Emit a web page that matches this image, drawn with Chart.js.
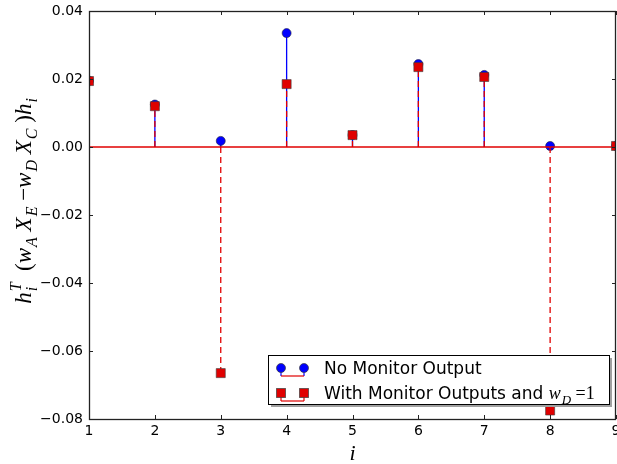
<!DOCTYPE html>
<html>
<head>
<meta charset="utf-8">
<script src="https://cdn.jsdelivr.net/npm/chart.js@4/dist/chart.umd.min.js"></script>
<style>
  html, body { margin: 0; padding: 0; background: #fff; }
  #stemChart { display: block; }
</style>
</head>
<body>
<canvas id="stemChart" width="617" height="464"></canvas>
<script>
// Data
const indices = [1, 2, 3, 4, 5, 6, 7, 8, 9];
const noMonitor = [0.0195, 0.0125, 0.0018, 0.0335, 0.0035, 0.0244, 0.0212, 0.0003, 0.0003];
const withMonitor = [0.0194, 0.0120, -0.0665, 0.0185, 0.0035, 0.0235, 0.0206, -0.0775, 0.0003];
const yTicks = [-0.08, -0.06, -0.04, -0.02, 0.00, 0.02, 0.04];
const xTicks = [1, 2, 3, 4, 5, 6, 7, 8, 9];
const legendLabels = ['No Monitor Output', 'With Monitor Outputs and '];

const BLUE = '#0000ff';
const RED = '#e00000';
const SERIF = '"Liberation Serif", "DejaVu Serif", serif';
const SANS = '"DejaVu Sans", sans-serif';

// Build stem segments: (x,0) -> (x,v), then a gap
function stemPoints(values) {
    const pts = [];
    indices.forEach((x, k) => {
        pts.push({ x: x, y: 0 });
        pts.push({ x: x, y: values[k] });
        pts.push({ x: x, y: null });
    });
    return pts;
}
function markerPoints(values) {
    return indices.map((x, k) => ({ x: x, y: values[k] }));
}
const baseline = [{ x: indices[0], y: 0 }, { x: indices[indices.length - 1], y: 0 }];

// Draw mathtext-like pieces; returns width
function drawMath(ctx, parts, x, y, size, draw) {
    let cx = x;
    const small = Math.round(size * 0.7);
    parts.forEach(p => {
        const fam = p.sans ? SANS : SERIF;
        ctx.font = (p.it ? 'italic ' : '') + size + 'px ' + fam;
        if (draw) ctx.fillText(p.t, cx, y);
        cx += ctx.measureText(p.t).width;
        let w = 0;
        ctx.font = 'italic ' + small + 'px ' + SERIF;
        if (p.sub) {
            if (draw) ctx.fillText(p.sub, cx + 1, y + size * 0.25);
            w = Math.max(w, ctx.measureText(p.sub).width + 1);
        }
        if (p.sup) {
            if (draw) ctx.fillText(p.sup, cx + 1, y - size * 0.45);
            w = Math.max(w, ctx.measureText(p.sup).width + 1);
        }
        cx += w;
    });
    return cx - x;
}

const yLabelParts = [
    { t: 'h', it: true, sub: 'i', sup: 'T' },
    { t: '  (' },
    { t: 'w', it: true, sub: 'A' },
    { t: ' X', it: true, sub: 'E' },
    { t: ' \u2212' },
    { t: 'w', it: true, sub: 'D' },
    { t: ' X', it: true, sub: 'C' },
    { t: ' )' },
    { t: 'h', it: true, sub: 'i' }
];

// Frame, inward ticks, axis titles and legend
const decorations = {
    id: 'decorations',
    afterDatasetsDraw(chart) {
        const ctx = chart.ctx;
        const a = chart.chartArea;
        const xs = chart.scales.x, ys = chart.scales.y;
        ctx.save();
        ctx.strokeStyle = '#222';
        ctx.lineWidth = 1;
        ctx.beginPath();
        xTicks.forEach(v => {
            const px = Math.round(xs.getPixelForValue(v)) + 0.5;
            ctx.moveTo(px, a.top); ctx.lineTo(px, a.top + 4);
            ctx.moveTo(px, a.bottom); ctx.lineTo(px, a.bottom - 4);
        });
        yTicks.forEach(v => {
            const py = Math.round(ys.getPixelForValue(v)) + 0.5;
            ctx.moveTo(a.left, py); ctx.lineTo(a.left + 4, py);
            ctx.moveTo(a.right, py); ctx.lineTo(a.right - 4, py);
        });
        ctx.stroke();
        ctx.lineWidth = 1.3;
        ctx.strokeRect(Math.round(a.left) + 0.5, Math.round(a.top) + 0.5,
            Math.round(a.right - a.left) - 1, Math.round(a.bottom - a.top));
        ctx.restore();
    },
    afterDraw(chart) {
        const ctx = chart.ctx;
        const a = chart.chartArea;
        ctx.save();
        ctx.fillStyle = '#000';
        ctx.textBaseline = 'alphabetic';
        ctx.textAlign = 'left';

        // x title
        ctx.font = 'italic 22px ' + SERIF;
        ctx.textAlign = 'center';
        ctx.fillText('i', (a.left + a.right) / 2, 460);
        ctx.textAlign = 'left';

        // y title
        const size = 23;
        const w = drawMath(ctx, yLabelParts, 0, 0, size, false);
        ctx.save();
        ctx.translate(31, (a.top + a.bottom) / 2 - 14);
        ctx.rotate(-Math.PI / 2);
        drawMath(ctx, yLabelParts, -w / 2, 0, size, true);
        ctx.restore();

        // legend
        const lx = 268, ly = 355, lw = 341, lh = 49;
        ctx.fillStyle = '#a0a0a0';
        ctx.fillRect(lx + 3, ly + 3, lw, lh);
        ctx.fillStyle = '#fff';
        ctx.fillRect(lx, ly, lw, lh);
        ctx.strokeStyle = '#000';
        ctx.lineWidth = 1;
        ctx.strokeRect(lx + 0.5, ly + 0.5, lw, lh);

        const rows = [
            { y: 368, color: BLUE, stemColor: BLUE, shape: 'circle' },
            { y: 393, color: RED, stemColor: RED, shape: 'square' }
        ];
        rows.forEach((r, k) => {
            const m1 = 281, m2 = 304, base = r.y + 8;
            ctx.lineWidth = 1.2;
            ctx.strokeStyle = r.stemColor;
            ctx.beginPath();
            ctx.moveTo(m1, r.y); ctx.lineTo(m1, base);
            ctx.moveTo(m2, r.y); ctx.lineTo(m2, base);
            ctx.stroke();
            ctx.strokeStyle = RED;
            ctx.beginPath();
            ctx.moveTo(m1, base); ctx.lineTo(m2, base);
            ctx.stroke();
            [m1, m2].forEach(mx => {
                ctx.fillStyle = r.color;
                ctx.strokeStyle = 'rgba(60,60,60,0.7)';
                ctx.lineWidth = 1;
                if (r.shape === 'circle') {
                    ctx.beginPath();
                    ctx.arc(mx, r.y, 4.5, 0, Math.PI * 2);
                    ctx.fill(); ctx.stroke();
                } else {
                    ctx.fillRect(mx - 4.5, r.y - 4.5, 9, 9);
                    ctx.strokeRect(mx - 4.5, r.y - 4.5, 9, 9);
                }
            });
            ctx.fillStyle = '#000';
            ctx.font = '17px ' + SANS;
            ctx.fillText(legendLabels[k], 324, r.y + 6);
            if (k === 1) {
                const tw = ctx.measureText(legendLabels[k]).width;
                drawMath(ctx, [{ t: 'w', it: true, sub: 'D' }, { t: ' =1' }], 324 + tw, r.y + 6, 18, true);
            }
        });
        ctx.restore();
    }
};

const stemChart = new Chart(document.getElementById('stemChart'), {
    type: 'scatter',
    data: {
        datasets: [
            {
                label: 'With Monitor Outputs markers',
                data: markerPoints(withMonitor),
                pointStyle: 'rect',
                pointRadius: 6.4,
                backgroundColor: RED,
                borderColor: 'rgba(60,60,60,0.6)',
                borderWidth: 1,
                clip: 0,
                order: 1
            },
            {
                label: 'With Monitor Outputs stems',
                data: stemPoints(withMonitor),
                showLine: true,
                spanGaps: false,
                borderColor: RED,
                borderWidth: 1.3,
                borderDash: [6, 4],
                pointRadius: 0,
                clip: 0,
                order: 2
            },
            {
                label: 'With baseline',
                data: baseline,
                showLine: true,
                borderColor: RED,
                borderWidth: 1.3,
                pointRadius: 0,
                clip: 0,
                order: 3
            },
            {
                label: 'No Monitor Output markers',
                data: markerPoints(noMonitor),
                pointStyle: 'circle',
                pointRadius: 4.5,
                backgroundColor: BLUE,
                borderColor: 'rgba(30,30,60,0.6)',
                borderWidth: 1,
                clip: 0,
                order: 4
            },
            {
                label: 'No Monitor Output stems',
                data: stemPoints(noMonitor),
                showLine: true,
                spanGaps: false,
                borderColor: BLUE,
                borderWidth: 1.3,
                pointRadius: 0,
                clip: 0,
                order: 5
            }
        ]
    },
    options: {
        responsive: false,
        animation: false,
        devicePixelRatio: 1,
        layout: { autoPadding: false, padding: { top: 11, right: 1, left: 0, bottom: 0 } },
        plugins: {
            legend: { display: false },
            tooltip: { enabled: false }
        },
        scales: {
            x: {
                type: 'linear',
                min: 1,
                max: 9,
                afterFit: s => { s.height = 45; s.paddingLeft = 0; s.paddingRight = 0; },
                afterBuildTicks: s => { s.ticks = xTicks.map(v => ({ value: v })); },
                grid: { display: false, drawTicks: false, tickLength: 0 },
                border: { display: false },
                ticks: {
                    color: '#000',
                    font: { family: SANS, size: 14 },
                    padding: 4,
                    maxRotation: 0,
                    autoSkip: false
                }
            },
            y: {
                type: 'linear',
                min: -0.08,
                max: 0.04,
                afterFit: s => { s.width = 89; s.paddingTop = 0; s.paddingBottom = 0; },
                afterBuildTicks: s => { s.ticks = yTicks.map(v => ({ value: v })); },
                grid: { display: false, drawTicks: false, tickLength: 0 },
                border: { display: false },
                ticks: {
                    color: '#000',
                    font: { family: SANS, size: 14 },
                    padding: 6,
                    callback: v => (v < 0 ? '\u2212' : '') + Math.abs(v).toFixed(2)
                }
            }
        }
    },
    plugins: [decorations]
});
</script>
</body>
</html>
